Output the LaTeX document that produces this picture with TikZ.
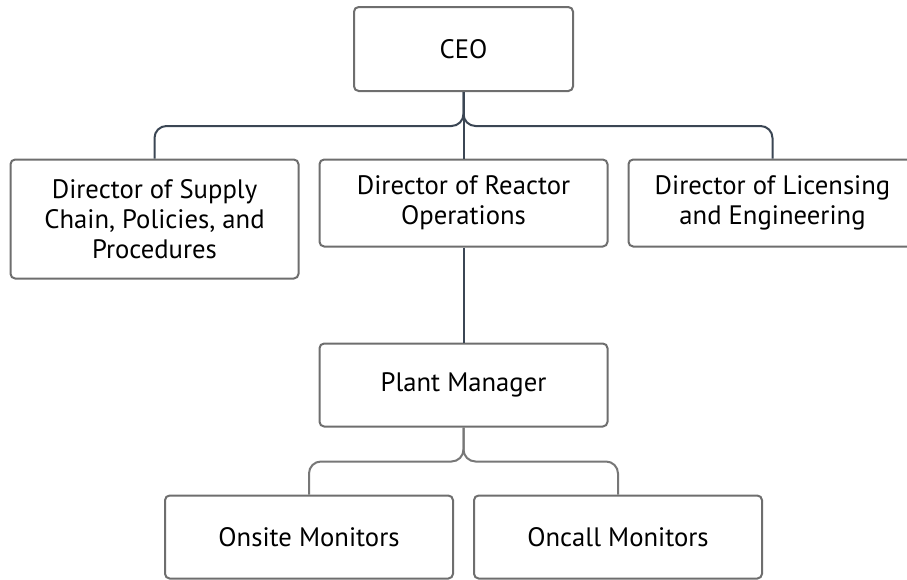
\documentclass[tikz,border=0pt]{standalone}
\usepackage{fontspec}
\setmainfont{PT Sans}
\definecolor{boxline}{HTML}{6E6E6E}
\definecolor{linkdark}{HTML}{3B4654}
\definecolor{linkgrey}{HTML}{777777}
\begin{document}
\begin{tikzpicture}[
        x=0.75pt, y=0.75pt,
        grow=down, % Дерево растет сверху вниз
        every node/.style = {anchor=north},
        edge from parent/.style = {draw, linkdark, line width=1.5pt, rounded corners=9pt},
        branch/.style = {edge from parent path={(\tikzparentnode.south) -- ++(0,-25.5pt) -| (\tikzchildnode.north)}},
        straight/.style = {edge from parent path={(\tikzparentnode.south) -- (\tikzchildnode.north)}},
        level 1/.style = {level distance=82.125pt, sibling distance=231.75pt, branch}, % Директора
        level 2/.style = {level distance=104.625pt, straight},
        level 3/.style = {level distance=82.125pt, sibling distance=231.75pt, branch, edge from parent/.append style={linkgrey}},
        post/.style = {draw=boxline, line width=1.5pt, rounded corners=3.5pt, fill=white, align=center,
                minimum width=216pt, minimum height=63pt, font=\fontsize{20}{22.5}\selectfont}, % Стиль узлов
    ]
    \useasboundingbox (0,0) rectangle (907,-579);

    \node[post, minimum width=164.25pt] (ceo) at (463.5,-6) {CEO}
    child {node[post, minimum height=89.25pt] (supply) {Director of Supply\\Chain, Policies, and\\Procedures}}
    child {node[post, minimum height=65.25pt] (reactor) {Director of Reactor\\Operations}
            child {node[post, minimum height=62.25pt] (plant) {Plant Manager}
                    child {node[post, minimum height=62.25pt] (onsite) {Onsite Monitors}}
                    child {node[post, minimum height=62.25pt] (oncall) {Oncall Monitors}}
                }
        }
    child {node[post, minimum height=65.25pt] (licensing) {Director of Licensing\\and Engineering}};
\end{tikzpicture}
\end{document}
